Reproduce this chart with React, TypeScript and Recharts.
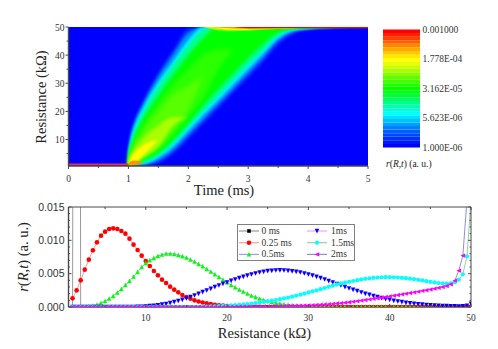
import * as React from "react"
import {
  Area,
  Bar,
  BarChart,
  CartesianGrid,
  ComposedChart,
  Legend,
  Line,
  LineChart,
  XAxis,
  YAxis,
} from "recharts"

const SERIF = "'Liberation Serif', serif"
const SANS = "'Liberation Sans', sans-serif"
const AXIS = "#4a4a4a"
const TEXT = "#333"

// ---- heat map: contour bands, one low/high array per level, aligned with times
const n = null
const times = [0, 1, 1.03, 1.1, 1.25, 1.5, 1.75, 2, 2.25, 2.5, 2.75, 3, 3.25, 3.5, 3.75, 4, 4.5, 5]

const deepLow = [n, 1, 1, 1, 1, 1.6, 5, 10, 15.5, 21, 26.5, 32, 37.5, 43.5, 47.5, 49, 49.7, 49.9]
const deepHigh = [n, 7.5, 12, 17, 24, 34, 42, 49.5, 50, 50, 50, 50, 50, 50, 50, 50, 50, 50]
const skyLow = [n, 1, 1, 1, 1, 2.5, 6.2, 11.5, 17, 22.5, 28, 33.5, 39, 45, 48.2, 49.2, 49.8, 49.95]
const skyHigh = [n, 7, 11, 16, 23, 32.5, 40.5, 48, 50, 50, 50, 50, 50, 50, 50, 50, 50, 50]
const cyanLow = [n, 1, 1, 1, 1.2, 3.5, 7.5, 13, 18.7, 24, 29.5, 35, 40.5, 46, 48.7, 49.4, 49.9, 50]
const cyanHigh = [n, 6, 9, 14.5, 21.5, 30.5, 38, 45.5, 50, 50, 50, 50, 50, 50, 50, 50, 50, 50]
const aquaLow = [n, 1, 1, 1, 1.8, 4.2, 8.5, 14.3, 20, 25.5, 31, 36.5, 41.5, 47, 49, 49.5, 49.95, 50]
const aquaHigh = [n, 5, 8, 13, 20, 29, 36.5, 43.5, 49, 50, 50, 50, 50, 50, 50, 50, 50, 50]
const greenLow = [n, 1, 1, 1.2, 2.5, 5.2, 10, 15.8, 22, 28, 33.5, 39, 44, 48, 49.3, 49.7, 50, 50]
const greenHigh = [n, 3.5, 6.5, 11, 17.5, 25.5, 33, 40, 46, 50, 50, 50, 50, 50, 50, 50, 50, 50]
const grassLow = [n, 1, 1, 1.4, 3.5, 6.5, 12, 18.5, 25, 35, 42]
const grassHigh = [n, 2.5, 5, 9, 15, 23, 29.5, 35, 40, 42, 42]
const ridgeLow = [n, 1, 1, 1.4, 4, 7.5, 13.5, 20.5, 33]
const ridgeHigh = [n, 2, 4.2, 8, 13, 20, 26, 29, 33]
const limeLow = [n, 1, 1, 1.5, 3.6, 7.5, 15, 18]
const limeHigh = [n, 1.8, 3.7, 6.5, 10.5, 15, 18, 18]
const yellowLow = [n, 1, 1, 1.7, 4.5, 10]
const yellowHigh = [n, 1.5, 3.2, 5.5, 8, 10]
const orangeLow = [n, 1, 1, 1, 1.8]
const orangeHigh = [n, 1.2, 2.2, 2.5, 1.8]
const topLimeLow = [n, n, n, n, n, n, n, n, 50, 48.8, 48.5, 48.7, 49, 49.3, 49.5, 49.7, 49.9, 50]
const topYellowLow = [n, n, n, n, n, n, n, n, 50, 49.4, 49, 49.1, 49.3, 49.5, 49.6, 49.75, 49.9, 50]
const topOrangeLow = [n, n, n, n, n, n, n, n, 50, 49.8, 49.5, 49.4, 49.5, 49.6, 49.65, 49.75, 49.9, 50]
const topRedLow = [n, n, n, n, n, n, n, n, n, n, 50, 49.6, 49.6, 49.6, 49.6, 49.6, 49.6, 49.6]
const topHigh = [n, n, n, n, n, n, n, n, 50, 50, 50, 50, 50, 50, 50, 50, 50, 50]
const startLow = [0.85, 0.85]
const startHigh = [1.45, 1.45]

const levels = [
  { key: "deep", color: "#0030ff", low: deepLow, high: deepHigh, blur: 1 },
  { key: "sky", color: "#0090ff", low: skyLow, high: skyHigh, blur: 1 },
  { key: "cyan", color: "#00eeff", low: cyanLow, high: cyanHigh, blur: 1 },
  { key: "aqua", color: "#00ff90", low: aquaLow, high: aquaHigh, blur: 1.2 },
  { key: "green", color: "#00ff00", low: greenLow, high: greenHigh, blur: 1.5 },
  { key: "grass", color: "#2cff00", low: grassLow, high: grassHigh, blur: 2 },
  { key: "ridge", color: "#58ff00", low: ridgeLow, high: ridgeHigh, blur: 2 },
  { key: "lime", color: "#a8ff00", low: limeLow, high: limeHigh, blur: 1.5 },
  { key: "yellow", color: "#ffff00", low: yellowLow, high: yellowHigh, blur: 1 },
  { key: "orange", color: "#ff9000", low: orangeLow, high: orangeHigh, blur: 0.5 },
  { key: "topLime", color: "#80ff00", low: topLimeLow, high: topHigh, blur: 0.6 },
  { key: "topYellow", color: "#ffff00", low: topYellowLow, high: topHigh, blur: 0.4 },
  { key: "topOrange", color: "#ff9800", low: topOrangeLow, high: topHigh, blur: 0.3 },
  { key: "topRed", color: "#ff0000", low: topRedLow, high: topHigh, blur: 0 },
  { key: "start", color: "#ff2a3a", low: startLow, high: startHigh, blur: 0 },
]

const heatRows = times.map((t, i) => {
  const row: Record<string, any> = { t }
  levels.forEach((l) => {
    row[l.key] = l.low[i] == null ? null : [l.low[i], l.high[i]]
  })
  return row
})

const timeTicks = [0, 0.5, 1, 1.5, 2, 2.5, 3, 3.5, 4, 4.5, 5]
const timeMajor = [0, 1, 2, 3, 4, 5]
const resTicks = [5, 10, 15, 20, 25, 30, 35, 40, 45, 50]
const resMajor = [10, 20, 30, 40, 50]

// ---- colour scale, bottom to top
const scaleColors = [
  "#0000ff", "#0018ff", "#0030ff", "#0048ff", "#0060ff", "#0080ff", "#00a0ff", "#00c0ff",
  "#00e0ff", "#00ffff", "#00ffd8", "#00ffb0", "#00ff88", "#00ff60", "#00ff38", "#00ff10",
  "#00ff00", "#20ff00", "#40ff00", "#60ff00", "#88ff00", "#a8ff00", "#c8ff00", "#e8ff00",
  "#ffff00", "#ffe800", "#ffc800", "#ffa800", "#ff8800", "#ff6000", "#ff4000", "#ff2000", "#ff0000",
]
const scaleLabels = ["1.000E-06", "5.623E-06", "3.162E-05", "1.778E-04", "0.001000"]
const scaleRow = [
  Object.fromEntries(scaleColors.map((_, i) => [`s${i}`, 4 / scaleColors.length])),
]

// ---- line panel, values in 10^-3, R = 1, 1.5, ... 50
const resistance = [
  1, 1.5, 2, 2.5, 3, 3.5, 4, 4.5, 5, 5.5, 6, 6.5, 7, 7.5, 8, 8.5, 9, 9.5, 10, 10.5,
  11, 11.5, 12, 12.5, 13, 13.5, 14, 14.5, 15, 15.5, 16, 16.5, 17, 17.5, 18, 18.5, 19, 19.5, 20, 20.5,
  21, 21.5, 22, 22.5, 23, 23.5, 24, 24.5, 25, 25.5, 26, 26.5, 27, 27.5, 28, 28.5, 29, 29.5, 30, 30.5,
  31, 31.5, 32, 32.5, 33, 33.5, 34, 34.5, 35, 35.5, 36, 36.5, 37, 37.5, 38, 38.5, 39, 39.5, 40, 40.5,
  41, 41.5, 42, 42.5, 43, 43.5, 44, 44.5, 45, 45.5, 46, 46.5, 47, 47.5, 48, 48.5, 49, 49.5, 50,
]
const ms0 = [
  0, 300, 0, 0, 0, 0, 0, 0, 0, 0, 0, 0, 0, 0, 0, 0, 0, 0, 0, 0,
  0, 0, 0, 0, 0, 0, 0, 0, 0, 0, 0, 0, 0, 0, 0, 0, 0, 0, 0, 0,
  0, 0, 0, 0, 0, 0, 0, 0, 0, 0, 0, 0, 0, 0, 0, 0, 0, 0, 0, 0,
  0, 0, 0, 0, 0, 0, 0, 0, 0, 0, 0, 0, 0, 0, 0, 0, 0, 0, 0, 0,
  0, 0, 0, 0, 0, 0, 0, 0, 0, 0, 0, 0, 0, 0, 0, 0, 0, 0, 0,
]
const ms025 = [
  1.3, 2.5, 4.0, 5.6, 7.1, 8.5, 9.7, 10.7, 11.3, 11.7,
  11.8, 11.7, 11.4, 11.0, 10.25, 9.35, 8.55, 7.7, 6.9, 6.15,
  5.4, 4.75, 4.1, 3.6, 3.05, 2.6, 2.2, 1.8, 1.5, 1.25,
  1.0, 0.82, 0.67, 0.54, 0.43, 0.34, 0.27, 0.21, 0.16, 0.12,
  0.09, 0.07, 0.05, 0.04, 0.03, 0.02, 0.015, 0.01, 0.01, 0.005,
  0, 0, 0, 0, 0, 0, 0, 0, 0, 0,
  0, 0, 0, 0, 0, 0, 0, 0, 0, 0,
  0, 0, 0, 0, 0, 0, 0, 0, 0, 0,
  0, 0, 0, 0, 0, 0, 0, 0, 0, 0,
  0, 0, 0, 0, 0, 0, 0, 0, 0,
]
const ms05 = [
  0, 0, 0.02, 0.05, 0.1, 0.2, 0.35, 0.6, 0.9, 1.25,
  1.65, 2.15, 2.7, 3.3, 3.9, 4.55, 5.25, 6.0, 6.6, 7.0,
  7.35, 7.65, 7.85, 8.0, 8.0, 7.95, 7.8, 7.6, 7.4, 7.1,
  6.8, 6.45, 6.1, 5.7, 5.3, 4.9, 4.5, 4.1, 3.7, 3.3,
  2.95, 2.6, 2.3, 2.0, 1.7, 1.5, 1.25, 1.05, 0.9, 0.75,
  0.6, 0.5, 0.4, 0.33, 0.27, 0.21, 0.17, 0.13, 0.1, 0.08,
  0.06, 0.05, 0.04, 0.03, 0.02, 0.015, 0.01, 0.01, 0.005, 0.005,
  0, 0, 0, 0, 0, 0, 0, 0, 0, 0,
  0, 0, 0, 0, 0, 0, 0, 0, 0, 0,
  0, 0, 0, 0, 0, 0, 0, 0, 0,
]
const ms1 = [
  0, 0, 0, 0, 0, 0, 0, 0, 0, 0,
  0, 0, 0.005, 0.01, 0.015, 0.02, 0.03, 0.05, 0.1, 0.15,
  0.2, 0.28, 0.37, 0.47, 0.6, 0.75, 0.92, 1.1, 1.3, 1.5,
  1.75, 2.0, 2.25, 2.5, 2.75, 3.0, 3.25, 3.5, 3.7, 3.95,
  4.15, 4.35, 4.55, 4.72, 4.9, 5.05, 5.2, 5.3, 5.4, 5.45,
  5.5, 5.52, 5.5, 5.45, 5.38, 5.3, 5.2, 5.05, 4.9, 4.72,
  4.55, 4.35, 4.15, 3.9, 3.7, 3.45, 3.25, 3.0, 2.8, 2.6,
  2.4, 2.2, 2.0, 1.85, 1.65, 1.5, 1.35, 1.2, 1.1, 0.95,
  0.85, 0.75, 0.65, 0.57, 0.5, 0.43, 0.37, 0.32, 0.27, 0.23,
  0.2, 0.17, 0.14, 0.12, 0.11, 0.1, 0.12, 0.2, 0.5,
]
const ms15 = [
  0, 0, 0, 0, 0, 0, 0, 0, 0, 0,
  0, 0, 0, 0, 0, 0, 0, 0, 0, 0,
  0, 0, 0, 0, 0.005, 0.005, 0.01, 0.01, 0.02, 0.02,
  0.03, 0.04, 0.05, 0.06, 0.08, 0.1, 0.13, 0.16, 0.2, 0.24,
  0.28, 0.33, 0.38, 0.44, 0.5, 0.57, 0.65, 0.75, 0.85, 0.95,
  1.05, 1.17, 1.3, 1.42, 1.55, 1.7, 1.85, 2.0, 2.18, 2.35,
  2.5, 2.68, 2.85, 3.03, 3.2, 3.38, 3.53, 3.65, 3.77, 3.9,
  4.02, 4.13, 4.22, 4.3, 4.37, 4.42, 4.45, 4.47, 4.47, 4.45,
  4.42, 4.38, 4.32, 4.25, 4.18, 4.08, 3.98, 3.88, 3.78, 3.68,
  3.6, 3.55, 3.52, 3.55, 3.7, 4.1, 4.9, 7.6, 16,
]
const ms2 = [
  0, 0, 0, 0, 0, 0, 0, 0, 0, 0,
  0, 0, 0, 0, 0, 0, 0, 0, 0, 0,
  0, 0, 0, 0, 0, 0, 0, 0, 0, 0,
  0, 0, 0, 0, 0.005, 0.005, 0.01, 0.01, 0.015, 0.02,
  0.02, 0.03, 0.03, 0.04, 0.05, 0.05, 0.06, 0.07, 0.08, 0.09,
  0.1, 0.11, 0.12, 0.14, 0.15, 0.17, 0.19, 0.21, 0.24, 0.27,
  0.3, 0.33, 0.37, 0.41, 0.46, 0.52, 0.58, 0.65, 0.72, 0.8,
  0.88, 0.96, 1.05, 1.14, 1.23, 1.32, 1.41, 1.5, 1.6, 1.7,
  1.8, 1.9, 2.0, 2.1, 2.2, 2.3, 2.42, 2.52, 2.63, 2.75,
  2.87, 3.0, 3.15, 3.4, 3.95, 5.45, 7.7, 16, 40,
]

const lineRows = resistance.map((r, i) => ({
  r,
  ms0: ms0[i],
  ms025: ms025[i],
  ms05: ms05[i],
  ms1: ms1[i],
  ms15: ms15[i],
  ms2: ms2[i],
}))

const series = [
  { key: "ms0", name: "0 ms", line: "#9a9a9a", marker: "square", fill: "#000000" },
  { key: "ms025", name: "0.25 ms", line: "#ff9c9c", marker: "circle", fill: "#ff0000" },
  { key: "ms05", name: "0.5ms", line: "#9c9cff", marker: "up", fill: "#00ff00" },
  { key: "ms1", name: "1ms", line: "#ff9cff", marker: "down", fill: "#0000ff" },
  { key: "ms15", name: "1.5ms", line: "#9cd09c", marker: "hex", fill: "#00ffff" },
  { key: "ms2", name: "2ms", line: "#8f8fe0", marker: "left", fill: "#ff00ff" },
]

const rTicks = [5, 10, 15, 20, 25, 30, 35, 40, 45, 50]
const rMajor = [10, 20, 30, 40, 50]
const rateTicks = [0, 1, 2, 3, 4, 5, 6, 7, 8, 9, 10, 11, 12, 13, 14, 15]
const rateMajor = [0, 5, 10, 15]

function Marker({ kind, x, y, fill }: { kind: string; x: number; y: number; fill: string }) {
  const s = 2.2
  if (kind === "square") return <rect x={x - 1.8} y={y - 1.8} width={3.6} height={3.6} fill={fill} />
  if (kind === "circle") return <circle cx={x} cy={y} r={2.3} fill={fill} />
  if (kind === "hex") return <circle cx={x} cy={y} r={2.1} fill={fill} />
  const pts: Record<string, number[][]> = {
    up: [[0, -s - 0.3], [s, s], [-s, s]],
    down: [[0, s + 0.3], [s, -s], [-s, -s]],
    left: [[-s - 0.3, 0], [s, -s], [s, s]],
  }
  return <polygon points={pts[kind].map(([a, b]) => `${x + a},${y + b}`).join(" ")} fill={fill} />
}

// one axis per side, so ticks and labels are drawn by the same renderer
function axisTick(
  side: "left" | "right" | "top" | "bottom",
  major: number[],
  opts: { inward?: boolean; big: number; small: number; format?: (v: number) => string; font?: string; size?: number; gap?: number }
) {
  return (p: any) => {
    const { x, y, payload } = p
    const v = payload.value
    const isMajor = major.includes(v)
    const len = isMajor ? opts.big : opts.small
    const horizontal = side === "left" || side === "right"
    const out = side === "left" || side === "top" ? -1 : 1
    const dir = opts.inward ? -out : out
    const label = isMajor && opts.format ? opts.format(v) : null
    return (
      <g>
        {horizontal ? (
          <line x1={x} x2={x + dir * len} y1={y} y2={y} stroke={AXIS} />
        ) : (
          <line x1={x} x2={x} y1={y} y2={y + dir * len} stroke={AXIS} />
        )}
        {label != null &&
          (horizontal ? (
            <text x={x - (opts.gap ?? 4)} y={y + 3.5} textAnchor="end" fontFamily={opts.font} fontSize={opts.size} fill={TEXT}>
              {label}
            </text>
          ) : (
            <text x={x} y={y + (opts.gap ?? 12)} textAnchor="middle" fontFamily={opts.font} fontSize={opts.size} fill={TEXT}>
              {label}
            </text>
          ))}
      </g>
    )
  }
}

function HeatPanel() {
  return (
    <ComposedChart width={498} height={191} data={heatRows} margin={{ top: 27, right: 130, bottom: 0, left: 0 }}>
      <CartesianGrid fill="#0000ff" horizontal={false} vertical={false} />
      {levels.map((l) => (
        <Area
          key={l.key}
          dataKey={l.key}
          type="monotone"
          fill={l.color}
          fillOpacity={1}
          stroke="none"
          dot={false}
          activeDot={false}
          isAnimationActive={false}
          style={l.blur ? { filter: `blur(${l.blur}px)` } : undefined}
        />
      ))}
      <XAxis
        dataKey="t"
        type="number"
        domain={[0, 5]}
        ticks={timeTicks}
        interval={0}
        height={25}
        allowDataOverflow
        tickLine={false}
        tickSize={0}
        tickMargin={0}
        stroke={AXIS}
        strokeWidth={1.4}
        tick={axisTick("bottom", timeMajor, { big: 3, small: 2, format: String, font: SERIF, size: 9.5, gap: 15.5 })}
      />
      <YAxis
        type="number"
        domain={[0.58, 50]}
        ticks={resTicks}
        interval={0}
        width={68.5}
        allowDataOverflow
        tickLine={false}
        tickSize={0}
        tickMargin={0}
        stroke={AXIS}
        strokeWidth={1.4}
        tick={axisTick("left", resMajor, { big: 3, small: 2, format: String, font: SERIF, size: 9.5, gap: 4 })}
      />
    </ComposedChart>
  )
}

function ScalePanel() {
  return (
    <BarChart width={115} height={349} data={scaleRow} barCategoryGap={0} margin={{ top: 29.5, right: 0, bottom: 201.5, left: 0 }}>
      <XAxis hide />
      <YAxis
        orientation="right"
        type="number"
        domain={[0, 4]}
        ticks={[0, 1, 2, 3, 4]}
        interval={0}
        width={78.5}
        axisLine={false}
        tickLine={false}
        tickMargin={3}
        tickSize={0}
        tick={{ fontFamily: SERIF, fontSize: 9.5, fill: TEXT }}
        tickFormatter={(v: number) => scaleLabels[v]}
      />
      {scaleColors.map((c, i) => (
        <Bar key={c} dataKey={`s${i}`} stackId="scale" fill={c} isAnimationActive={false} />
      ))}
    </BarChart>
  )
}

function SeriesLegend({ payload }: any) {
  const rows = (payload ?? []) as any[]
  return (
    <svg width={118} height={37} style={{ display: "block" }}>
      <rect x={0.5} y={0.5} width={117} height={36} fill="#fff" stroke="#808080" />
      {rows.map((item, i) => {
        const s = series.find((d) => d.name === item.value)!
        const col = i < 3 ? 0 : 1
        const row = i % 3
        const y = 7 + row * 11.7
        const x0 = col === 0 ? 2 : 70
        return (
          <g key={s.key}>
            <line x1={x0} x2={x0 + 20} y1={y} y2={y} stroke={s.line} strokeWidth={1.2} />
            <Marker kind={s.marker} x={x0 + 10} y={y} fill={s.fill} />
            <text x={col === 0 ? 24.5 : 94} y={y + 3} fontFamily={SERIF} fontSize={9.5} fill={TEXT}>
              {s.name}
            </text>
          </g>
        )
      })}
    </svg>
  )
}

function LinePanel() {
  return (
    <LineChart width={498} height={159} data={lineRows} margin={{ top: 16, right: 26, bottom: 0, left: 0 }}>
      <XAxis
        dataKey="r"
        type="number"
        domain={[0.5, 50]}
        ticks={rTicks}
        interval={0}
        height={42}
        allowDataOverflow
        tickLine={false}
        tickSize={0}
        tickMargin={0}
        stroke={AXIS}
        strokeWidth={1.4}
        tick={axisTick("bottom", rMajor, { inward: true, big: 3, small: 2, format: String, font: SERIF, size: 9.5, gap: 14 })}
      />
      <XAxis
        xAxisId="top"
        orientation="top"
        dataKey="r"
        type="number"
        domain={[0.5, 50]}
        ticks={rTicks}
        interval={0}
        height={1}
        allowDataOverflow
        tickLine={false}
        tickSize={0}
        tickMargin={0}
        stroke={AXIS}
        tick={axisTick("top", rMajor, { inward: true, big: 3, small: 2 })}
      />
      <YAxis
        type="number"
        domain={[0, 15]}
        ticks={rateTicks}
        interval={0}
        width={68.5}
        allowDataOverflow
        tickLine={false}
        tickSize={0}
        tickMargin={0}
        stroke={AXIS}
        strokeWidth={1.4}
        tick={axisTick("left", rateMajor, {
          inward: true,
          big: 3,
          small: 1.5,
          format: (v) => (v / 1000).toFixed(3),
          font: SANS,
          size: 10.5,
          gap: 4,
        })}
      />
      <YAxis
        yAxisId="right"
        orientation="right"
        type="number"
        domain={[0, 15]}
        ticks={rateTicks}
        interval={0}
        width={1}
        allowDataOverflow
        tickLine={false}
        tickSize={0}
        tickMargin={0}
        stroke={AXIS}
        tick={axisTick("right", rateMajor, { inward: true, big: 3, small: 1.5 })}
      />
      <Legend
        layout="vertical"
        align="center"
        verticalAlign="middle"
        itemSorter={null}
        wrapperStyle={{ left: 236.5, top: 33.5, width: 118, height: 37 }}
        content={(p: any) => <SeriesLegend payload={p.payload} />}
      />
      {series.map((s) => (
        <Line
          key={s.key}
          dataKey={s.key}
          name={s.name}
          stroke={s.line}
          strokeWidth={1}
          type="linear"
          isAnimationActive={false}
          activeDot={false}
          dot={(p: any) => <Marker key={p.index} kind={s.marker} x={p.cx} y={p.cy} fill={s.fill} />}
        />
      ))}
    </LineChart>
  )
}

function Rate({ size }: { size: number }) {
  return (
    <>
      <tspan fontStyle="italic" fontSize={size}>r</tspan>
      <tspan fontSize={size}>(</tspan>
      <tspan fontStyle="italic" fontSize={size}>R</tspan>
      <tspan fontSize={size}>,</tspan>
      <tspan fontStyle="italic" fontSize={size}>t</tspan>
      <tspan fontSize={size}>) (a. u.)</tspan>
    </>
  )
}

function Titles() {
  return (
    <svg width={498} height={349} style={{ position: "absolute", left: 0, top: 0, pointerEvents: "none" }} fontFamily={SERIF} fill="#222">
      <text x={224} y={195} textAnchor="middle" fontSize={14.5}>Time (ms)</text>
      <text transform="translate(46,97) rotate(-90)" textAnchor="middle" fontSize={14.5}>Resistance (kΩ)</text>
      <text x={264.5} y={337.5} textAnchor="middle" fontSize={14.5}>Resistance (kΩ)</text>
      <text transform="translate(28,257) rotate(-90)" textAnchor="middle"><Rate size={14.5} /></text>
      <text x={386} y={167}><Rate size={9.5} /></text>
    </svg>
  )
}

export default function App() {
  return (
    <div style={{ position: "absolute", left: 0, top: 0, width: 498, height: 349, background: "#fff", overflow: "hidden" }}>
      <div style={{ position: "absolute", left: 0, top: 0 }}>
        <HeatPanel />
      </div>
      <div style={{ position: "absolute", left: 383, top: 0 }}>
        <ScalePanel />
      </div>
      <div style={{ position: "absolute", left: 0, top: 190 }}>
        <LinePanel />
      </div>
      <Titles />
    </div>
  )
}
